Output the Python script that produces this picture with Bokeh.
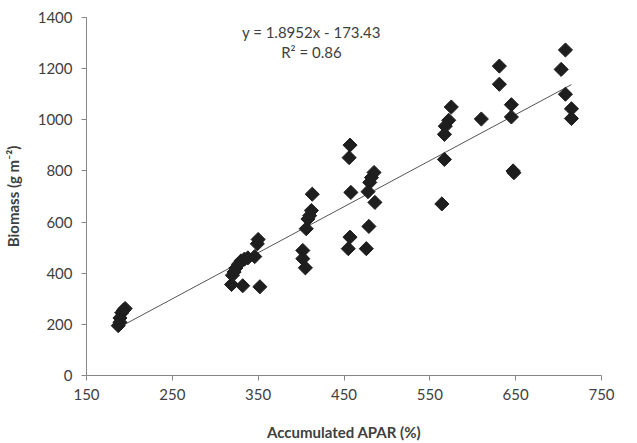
import numpy as np
from bokeh.plotting import figure
from bokeh.models import Range1d, FixedTicker
from bokeh.core.properties import value
from bokeh.embed import file_html
from bokeh.resources import INLINE

# Accumulated APAR (%) and biomass (g m-2)
apar = [187, 189, 189, 191, 193, 195,
        319, 320, 322, 324, 327, 330, 334, 338, 346, 349, 350, 332, 352,
        413, 412, 410, 408, 406, 402, 402, 405,
        457, 456, 458, 457, 455, 485, 482, 480, 478, 486, 479, 476,
        575, 572, 568, 567, 567, 564,
        610, 631, 631, 645, 645, 647, 648,
        708, 703, 708, 715, 715]
biomass = [195, 208, 225, 245, 255, 262,
           356, 392, 405, 420, 435, 448, 455, 460, 465, 515, 532, 351, 347,
           709, 645, 625, 612, 574, 489, 457, 421,
           901, 852, 716, 541, 496, 794, 774, 755, 719, 677, 583, 496,
           1050, 998, 975, 943, 845, 671,
           1003, 1210, 1139, 1059, 1011, 800, 793,
           1273, 1197, 1100, 1043, 1005]

x_ticks = [150, 250, 350, 450, 550, 650, 750]
y_ticks = [0, 200, 400, 600, 800, 1000, 1200, 1400]
equation_lines = ["y = 1.8952x - 173.43", "R\u00b2 = 0.86"]

FONT = "Lato"

p = figure(width=629, height=443, output_backend="svg", toolbar_location=None,
           x_range=Range1d(150, 750), y_range=Range1d(0, 1400),
           min_border_left=81, min_border_right=28, min_border_top=17, min_border_bottom=65)
p.outline_line_color = None
p.xgrid.visible = False
p.ygrid.visible = False
p.background_fill_color = "white"

for ax in (p.xaxis, p.yaxis):
    ax.axis_line_color = "#868686"
    ax.major_tick_line_color = "#868686"
    ax.major_tick_out = 5
    ax.major_tick_in = 0
    ax.minor_tick_line_color = None
    ax.major_label_text_font = FONT
    ax.major_label_text_font_size = "15px"
    ax.major_label_text_color = "#404040"
    ax.axis_label_text_font = FONT
    ax.axis_label_text_font_size = "15px"
    ax.axis_label_text_font_style = "bold"
    ax.axis_label_text_color = "#404040"

p.xaxis.ticker = FixedTicker(ticks=x_ticks)
p.yaxis.ticker = FixedTicker(ticks=y_ticks)
p.xaxis.axis_label = "Accumulated APAR (%)"
p.yaxis.axis_label = "Biomass (g m\u207b\u00b2)"
p.xaxis.major_label_standoff = 8
p.xaxis.axis_label_standoff = 20
p.yaxis.major_label_standoff = 9
p.yaxis.axis_label_standoff = 13

# linear trend line fitted to the data
slope, intercept = np.polyfit(apar, biomass, 1)
tx = np.array([min(apar), max(apar)])
p.line(tx, slope * tx + intercept, line_color="#555555", line_width=1)

p.scatter(apar, biomass, marker="square", angle=np.pi / 4, size=10,
          fill_color="#1e1e1e", line_color="#1e1e1e")

p.text(x=[412, 412], y=[1342, 1267], text=equation_lines,
       text_font=value(FONT), text_font_size="15px", text_color="#404040",
       text_align="center", text_baseline="middle")

open("out.html", "w").write(file_html(p, INLINE))
